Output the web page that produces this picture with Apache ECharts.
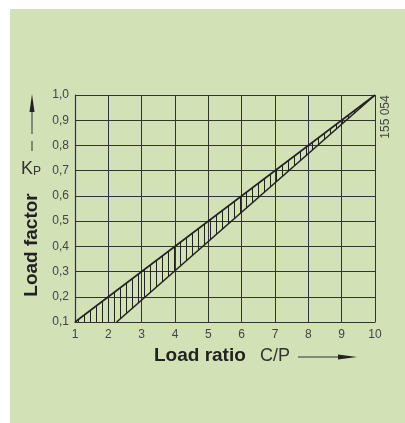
<!DOCTYPE html>
<html><head><meta charset="utf-8">
<script src="https://cdn.jsdelivr.net/npm/echarts@6/dist/echarts.min.js"></script>
<style>html,body{margin:0;padding:0;background:#fff;}#c{width:405px;height:423px;}</style>
</head><body><div id="c"></div>
<script>
// Data
var xTicks = [1, 2, 3, 4, 5, 6, 7, 8, 9, 10];
var yTicks = [0.1, 0.2, 0.3, 0.4, 0.5, 0.6, 0.7, 0.8, 0.9, 1.0];
var upperLine = [[1, 0.1], [10, 1.0]];
var lowerLine = [[2.25, 0.1], [10, 1.0]];
var bandPolygon = [[1, 0.1], [10, 1.0], [2.25, 0.1]];

var pat = document.createElement('canvas');
pat.width = 6; pat.height = 4;
var pc = pat.getContext('2d');
pc.fillStyle = '#222';
pc.fillRect(0, 0, 1, 4);

var chart = echarts.init(document.getElementById('c'), null, {renderer: 'canvas'});
var font = 'Liberation Sans, Arial, sans-serif';
chart.setOption({
  backgroundColor: '#fff',
  animation: false,
  grid: {left: 75, top: 95, right: 30, bottom: 101, containLabel: false},
  xAxis: {
    type: 'value', min: 1, max: 10, interval: 1,
    axisLine: {show: true, lineStyle: {color: '#333', width: 1.2}},
    axisTick: {show: false},
    axisLabel: {color: '#444', fontSize: 12, fontFamily: font, margin: 7},
    splitLine: {show: true, lineStyle: {color: '#333', width: 1}}
  },
  yAxis: {
    type: 'value', min: 0.1, max: 1.0, interval: 0.1,
    axisLine: {show: true, lineStyle: {color: '#333', width: 1.2}},
    axisTick: {show: false},
    axisLabel: {color: '#444', fontSize: 12, fontFamily: font, margin: 6,
      formatter: function (v) { return (Math.round(v * 10) / 10).toFixed(1).replace('.', ','); }},
    splitLine: {show: true, lineStyle: {color: '#333', width: 1}}
  },
  graphic: [
    {type: 'rect', z: -10, shape: {x: 10, y: 9, width: 395, height: 414}, style: {fill: '#d2e2b6'}},
    {type: 'rect', z: -9, shape: {x: 75, y: 95, width: 300, height: 227}, style: {fill: '#d2e2b6'}},
    // Y-axis title
    {type: 'text', x: 32, y: 245, rotation: Math.PI / 2,
      style: {text: 'Load factor', font: 'bold 19px ' + font, fill: '#222', align: 'center', verticalAlign: 'middle'}},
    {type: 'text', x: 31, y: 169,
      style: {text: '{k|K}{p|P}', rich: {k: {font: '18px ' + font, fill: '#333'}, p: {font: '12px ' + font, fill: '#333', padding: [6, 0, 0, 0]}}, align: 'center', verticalAlign: 'middle'}},
    {type: 'line', shape: {x1: 32, y1: 110, x2: 32, y2: 134}, style: {stroke: '#333', lineWidth: 1}},
    {type: 'line', shape: {x1: 32, y1: 141, x2: 32, y2: 151}, style: {stroke: '#333', lineWidth: 1}},
    {type: 'polygon', shape: {points: [[32, 94], [29.5, 112], [34.5, 112]]}, style: {fill: '#222'}},
    // X-axis title
    {type: 'text', x: 154, y: 356,
      style: {text: 'Load ratio', font: 'bold 19px ' + font, fill: '#222', verticalAlign: 'middle'}},
    {type: 'text', x: 260, y: 356,
      style: {text: 'C/P', font: '18px ' + font, fill: '#333', verticalAlign: 'middle'}},
    {type: 'line', shape: {x1: 298, y1: 357, x2: 345, y2: 357}, style: {stroke: '#333', lineWidth: 1}},
    {type: 'polygon', shape: {points: [[357, 357], [338, 354.5], [338, 359.5]]}, style: {fill: '#222'}},
    // code
    {type: 'text', x: 386, y: 117, rotation: Math.PI / 2,
      style: {text: '155 054', font: '12px ' + font, fill: '#444', align: 'center', verticalAlign: 'middle'}}
  ],
  series: [
    {type: 'custom', z: 3, data: [0],
      renderItem: function (params, api) {
        var pts = bandPolygon.map(function (p) { return api.coord(p); });
        return {type: 'polygon', shape: {points: pts}, style: {fill: {image: pat, repeat: 'repeat'}, stroke: null}};
      }},
    {type: 'line', z: 4, data: upperLine, symbol: 'none', lineStyle: {color: '#222', width: 1.6}},
    {type: 'line', z: 4, data: lowerLine, symbol: 'none', lineStyle: {color: '#222', width: 1.6}}
  ]
});
</script></body></html>
